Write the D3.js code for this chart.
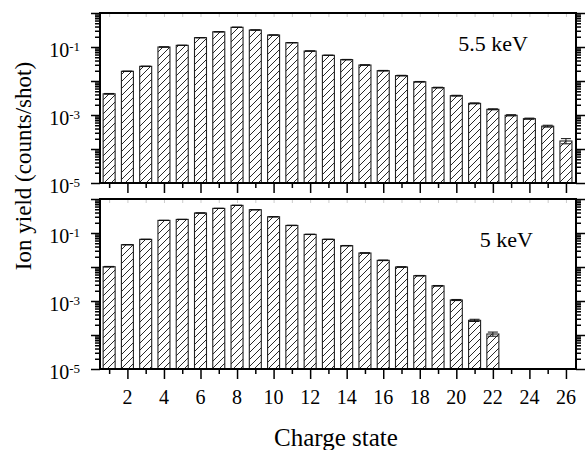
<!DOCTYPE html>
<html>
<head>
<meta charset="utf-8">
<script src="https://cdn.jsdelivr.net/npm/d3@7/dist/d3.min.js"></script>
<style>
  body { margin: 0; background: #fff; }
  text { font-family: "Liberation Serif", "Times New Roman", serif; fill: #000; }
</style>
</head>
<body>
<div id="chart"></div>
<script>
'use strict';

// 5.5 keV (top panel)
const chargeHi = [1, 2, 3, 4, 5, 6, 7, 8, 9, 10, 11, 12, 13, 14, 15, 16, 17, 18, 19, 20, 21, 22, 23, 24, 25, 26];
const yieldHi  = [0.0042, 0.0193, 0.027, 0.100, 0.112, 0.188, 0.28, 0.38, 0.316, 0.225, 0.134, 0.076, 0.057,
                  0.0425, 0.0295, 0.0201, 0.0144, 0.0095, 0.0064, 0.0037, 0.0022, 0.00147, 0.00098, 0.00078,
                  0.00047, 0.000172];
const errHi    = [0.0001, 0.0003, 0.0004, 0.001, 0.001, 0.002, 0.003, 0.004, 0.003, 0.002, 0.0015, 0.001, 0.0008,
                  0.0007, 0.0005, 0.0004, 0.0003, 0.0002, 0.00015, 0.0001, 0.00007, 0.00005, 0.00004, 0.00003,
                  0.00003, 0.00003];

// 5 keV (bottom panel)
const chargeLo = [1, 2, 3, 4, 5, 6, 7, 8, 9, 10, 11, 12, 13, 14, 15, 16, 17, 18, 19, 20, 21, 22];
const yieldLo  = [0.0102, 0.0453, 0.065, 0.235, 0.251, 0.387, 0.53, 0.65, 0.484, 0.30, 0.167, 0.091, 0.065,
                  0.0424, 0.0258, 0.0157, 0.0100, 0.00555, 0.0028, 0.00107, 0.00027, 0.000107];
const errLo    = [0.0002, 0.0006, 0.0008, 0.002, 0.002, 0.003, 0.004, 0.005, 0.004, 0.003, 0.002, 0.001, 0.0008,
                  0.0006, 0.0004, 0.0003, 0.0002, 0.0001, 0.00006, 0.00004, 0.00002, 0.000015];

const panelNames = ['5.5 keV', '5 keV'];
const xTickLabels = [2, 4, 6, 8, 10, 12, 14, 16, 18, 20, 22, 24, 26];
const yTickExps = [-1, -3, -5];

const W = 585, H = 450;
const left = 100, right = 576;

const svg = d3.select('#chart').append('svg')
    .attr('width', W).attr('height', H);

// hatch pattern
const pat = svg.append('defs').append('pattern')
    .attr('id', 'hatch')
    .attr('patternUnits', 'userSpaceOnUse')
    .attr('width', 7).attr('height', 7);
pat.append('rect').attr('width', 7).attr('height', 7).attr('fill', '#fff');
pat.append('path')
    .attr('d', 'M-1,8 L8,-1 M-1,1 L1,-1 M6,8 L8,6')
    .attr('stroke', '#111').attr('stroke-width', 0.9);

const x = d3.scaleLinear().domain([0.5, 26.55]).range([left, right]);

const panels = [
    { top: 13,  bottom: 183, charge: chargeHi, values: yieldHi, errors: errHi, name: panelNames[0], lx: 528, ly: 51, labels: false },
    { top: 199, bottom: 369, charge: chargeLo, values: yieldLo, errors: errLo, name: panelNames[1], lx: 533, ly: 247, labels: true }
];

// every decade tick plus minors 2..9
let logTicks = [];
for (let k = -5; k <= 0; k++)
{
    for (let m = 1; m <= 9; m++)
    {
        let v = m * Math.pow(10, k);
        if (v <= 1.0000001) logTicks.push(v);
    }
}
const isMajor = v => Math.abs(Math.log10(v) - Math.round(Math.log10(v))) < 1e-6;

panels.forEach(p =>
{
    let y = d3.scaleLog().domain([1e-5, 1]).range([p.bottom, p.top]);
    let g = svg.append('g');

    let data = p.charge.map((c, i) => ({ c: c, v: p.values[i], e: p.errors[i] }));

    // bars
    g.selectAll('rect.bar')
        .data(data)
        .enter()
        .append('rect')
        .attr('class', 'bar')
        .attr('x', d => x(d.c) - 6)
        .attr('y', d => y(d.v))
        .attr('width', 12)
        .attr('height', d => p.bottom - y(d.v))
        .attr('fill', 'url(#hatch)')
        .attr('stroke', '#222')
        .attr('stroke-width', 1.1);

    // error bars
    let eb = g.selectAll('g.err')
        .data(data)
        .enter()
        .append('g')
        .attr('class', 'err')
        .attr('stroke', '#111')
        .attr('stroke-width', 1);
    eb.append('line')
        .attr('x1', d => x(d.c)).attr('x2', d => x(d.c))
        .attr('y1', d => y(d.v - d.e)).attr('y2', d => y(d.v + d.e));
    eb.append('line')
        .attr('x1', d => x(d.c) - 5).attr('x2', d => x(d.c) + 5)
        .attr('y1', d => y(d.v + d.e)).attr('y2', d => y(d.v + d.e));
    eb.append('line')
        .attr('x1', d => x(d.c) - 5).attr('x2', d => x(d.c) + 5)
        .attr('y1', d => y(d.v - d.e)).attr('y2', d => y(d.v - d.e));

    // faint inner ticks along the top edge
    g.append('g')
        .attr('transform', `translate(0,${p.top})`)
        .call(d3.axisTop(x).tickValues(d3.range(1, 27)).tickSize(-4).tickFormat(''))
        .call(a => a.select('.domain').remove())
        .call(a => a.selectAll('line').attr('stroke', '#ccc'));

    // left axis
    g.append('g')
        .attr('transform', `translate(${left},0)`)
        .call(d3.axisLeft(y).tickValues(logTicks).tickFormat('').tickSizeOuter(0))
        .call(a => a.select('.domain').remove())
        .call(a => a.selectAll('.tick line')
            .attr('x2', d => isMajor(d) ? -9 : -5)
            .attr('stroke-width', 1.5));

    // right axis
    g.append('g')
        .attr('transform', `translate(${right},0)`)
        .call(d3.axisRight(y).tickValues(logTicks).tickFormat('').tickSizeOuter(0))
        .call(a => a.select('.domain').remove())
        .call(a => a.selectAll('.tick line')
            .attr('x2', d => isMajor(d) ? 9 : 5)
            .attr('stroke-width', 1.5));

    // bottom axis
    g.append('g')
        .attr('transform', `translate(0,${p.bottom})`)
        .call(d3.axisBottom(x).tickValues(d3.range(1, 27)).tickFormat('').tickSizeOuter(0))
        .call(a => a.select('.domain').remove())
        .call(a => a.selectAll('.tick line')
            .attr('y2', d => d % 2 === 0 ? 10 : 5)
            .attr('stroke-width', 1.5));

    // frame
    g.append('rect')
        .attr('x', left).attr('y', p.top)
        .attr('width', right - left).attr('height', p.bottom - p.top)
        .attr('fill', 'none').attr('stroke', '#000').attr('stroke-width', 2);

    // y tick labels 10^n
    let yl = g.selectAll('text.ylab')
        .data(yTickExps)
        .enter()
        .append('text')
        .attr('class', 'ylab')
        .attr('x', 80)
        .attr('y', d => y(Math.pow(10, d)) + 10)
        .attr('text-anchor', 'end')
        .style('font-size', '20px');
    yl.append('tspan').text('10');
    yl.append('tspan')
        .attr('dy', -6)
        .style('font-size', '13px')
        .text(d => '-' + Math.abs(d));

    // x tick labels (bottom panel only)
    if (p.labels)
    {
        g.selectAll('text.xlab')
            .data(xTickLabels)
            .enter()
            .append('text')
            .attr('class', 'xlab')
            .attr('x', d => x(d))
            .attr('y', p.bottom + 35)
            .attr('text-anchor', 'middle')
            .style('font-size', '20px')
            .text(d => d);
    }

    // energy label
    g.append('text')
        .attr('x', p.lx).attr('y', p.ly)
        .attr('text-anchor', 'end')
        .style('font-size', '22px')
        .text(p.name);
});

// axis titles
svg.append('text')
    .attr('transform', 'translate(31,166) rotate(-90)')
    .attr('text-anchor', 'middle')
    .style('font-size', '23px')
    .text('Ion yield (counts/shot)');

svg.append('text')
    .attr('x', 336).attr('y', 446)
    .attr('text-anchor', 'middle')
    .style('font-size', '25px')
    .text('Charge state');
</script>
</body>
</html>
